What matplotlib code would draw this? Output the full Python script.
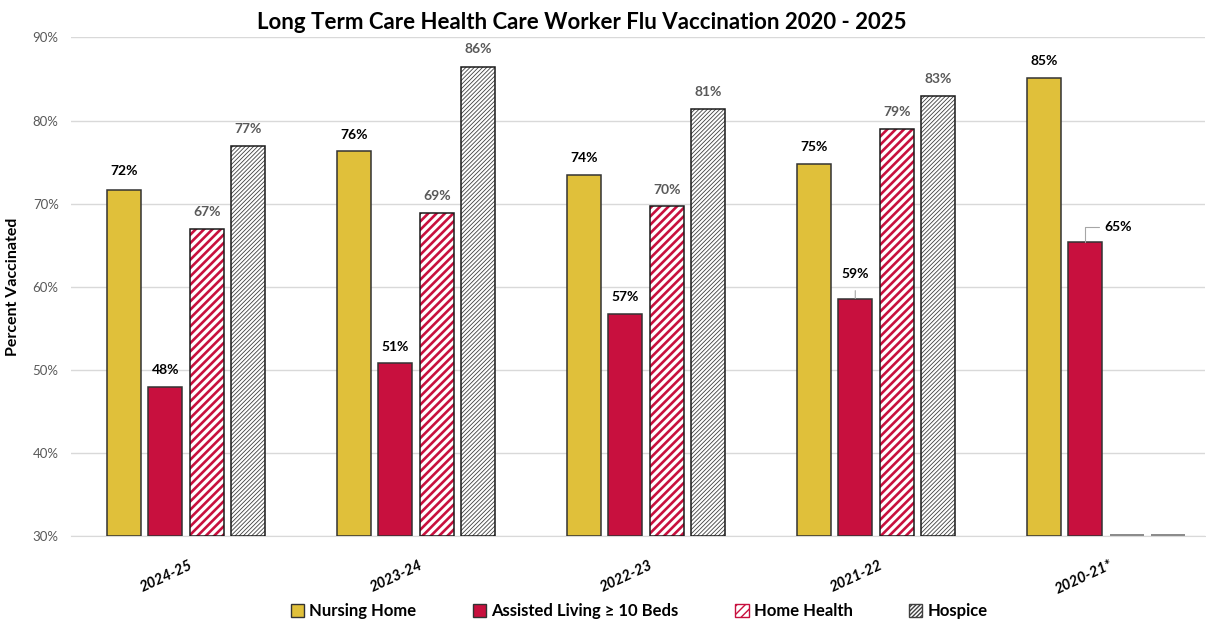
import matplotlib
matplotlib.use('Agg')
from matplotlib import pyplot as plt
import matplotlib.patches as mpatches
import numpy as np

# data
seasons = ['2024-25', '2023-24', '2022-23', '2021-22', '2020-21*']
nursing_home = [71.6, 76.3, 73.5, 74.8, 85.1]
assisted_living = [48.0, 50.8, 56.8, 58.6, 65.4]
home_health = [67.0, 68.9, 69.7, 79.0, None]
hospice = [77.0, 86.4, 81.4, 83.0, None]
series_names = ['Nursing Home', 'Assisted Living \u2265 10 Beds', 'Home Health', 'Hospice']

gold = '#E0C03A'
crimson = '#C8103E'
label_gray = '#595959'

plt.rcParams['font.family'] = ['Lato', 'DejaVu Sans']

fig = plt.figure(figsize=(12.06, 6.23), dpi=100)
ax = fig.add_axes([0.059, 0.139, 0.94, 0.801])

x = np.arange(len(seasons))
step = 0.18
width = 0.148
offsets = [-1.5 * step, -0.5 * step, 0.5 * step, 1.5 * step]


def draw_series(vals, off, face, hatch=None, hatch_col=None, hatch_lw=1.0):
  for i, v in enumerate(vals):
    xi = x[i] + off
    if v is None:
      # no data: thin gray stub on the baseline
      ax.bar(xi, 0.25, width, bottom=30, color='#8c8c8c', zorder=3)
      continue
    if hatch:
      with plt.rc_context({'hatch.linewidth': hatch_lw}):
        b = ax.bar(xi, v - 30, width, bottom=30, facecolor='white',
                   edgecolor=hatch_col, hatch=hatch, linewidth=0, zorder=3)
        for p in b:
          if hasattr(p, 'set_hatch_linewidth'):
            p.set_hatch_linewidth(hatch_lw)
      ax.bar(xi, v - 30, width, bottom=30, fill=False, edgecolor='#1a1a1a',
             linewidth=1.1, zorder=4)
    else:
      ax.bar(xi, v - 30, width, bottom=30, facecolor=face, edgecolor='#333333',
             linewidth=1.1, zorder=3)


draw_series(nursing_home, offsets[0], gold)
draw_series(assisted_living, offsets[1], crimson)
draw_series(home_health, offsets[2], 'white', '////', crimson, 1.9)
draw_series(hospice, offsets[3], 'white', '////////', '#404040', 0.6)

# data labels
def label_series(vals, off, col, special=None):
  for i, v in enumerate(vals):
    if v is None:
      continue
    dy = 12
    if special and i in special:
      dy = special[i]
    ax.annotate('%d%%' % round(v), (x[i] + off, v), xytext=(0, dy),
                textcoords='offset points', ha='center', va='center',
                fontsize=10, fontweight='bold', color=col, zorder=5)


label_series(nursing_home, offsets[0], 'black', {0: 14})
label_series(assisted_living[:3], offsets[1], 'black')
label_series(home_health, offsets[2], label_gray)
label_series(hospice, offsets[3], label_gray, {1: 13})

# labels with leader lines
ax.annotate('59%', (x[3] + offsets[1], assisted_living[3]), xytext=(0, 18),
            textcoords='offset points', ha='center', va='center',
            fontsize=10, fontweight='bold', color='black',
            arrowprops=dict(arrowstyle='-', color='#a6a6a6', lw=0.8,
                            shrinkA=6, shrinkB=0))
ax.annotate('65%', (x[4] + offsets[1], assisted_living[4]), xytext=(14, 11),
            textcoords='offset points', ha='left', va='center',
            fontsize=10, fontweight='bold', color='black',
            arrowprops=dict(arrowstyle='-', color='#a6a6a6', lw=0.8,
                            shrinkA=2, shrinkB=0, relpos=(0, 0.5),
                            connectionstyle='angle,angleA=0,angleB=90,rad=0'))

ax.set_ylim(30, 90)
ax.set_xlim(-0.5, 4.43)
ax.set_yticks(np.arange(30, 91, 10))
ax.set_yticklabels(['%d%%' % t for t in range(30, 91, 10)], fontsize=9.5, color=label_gray)
ax.yaxis.grid(True, color='#d9d9d9', linewidth=1)
ax.set_axisbelow(True)
ax.tick_params(axis='y', length=0, pad=9)
ax.tick_params(axis='x', length=0, pad=4)
ax.set_xticks(x)
ax.set_xticklabels(seasons, rotation=25, ha='right', rotation_mode='anchor',
                   fontsize=10.5, fontweight='bold', fontstyle='italic')
for t in ax.get_xticklabels():
  t.set_transform(t.get_transform() + matplotlib.transforms.ScaledTranslation(0.03, -0.16, fig.dpi_scale_trans))
for s in ['top', 'right', 'left']:
  ax.spines[s].set_visible(False)
ax.spines['bottom'].set_color('#d9d9d9')

ax.set_ylabel('Percent Vaccinated', fontsize=11.5, fontweight='bold')
ax.yaxis.set_label_coords(-0.045, 0.5)
fig.text(0.482, 0.964, 'Long Term Care Health Care Worker Flu Vaccination 2020 - 2025',
         ha='center', va='center', fontsize=16, fontweight='bold')

handles = [
  mpatches.Patch(facecolor=gold, edgecolor='#333333'),
  mpatches.Patch(facecolor=crimson, edgecolor='#333333'),
  mpatches.Patch(facecolor='white', edgecolor=crimson, hatch='////'),
  mpatches.Patch(facecolor='white', edgecolor='#404040', hatch='////////'),
]
leg = fig.legend(handles, series_names, loc='center', bbox_to_anchor=(0.53, 0.019),
                 ncol=4, frameon=False, prop={'size': 12, 'weight': 'bold'},
                 handlelength=0.8, handleheight=0.8, handletextpad=0.3,
                 columnspacing=3.4)

fig.savefig('out.png', dpi=100)
